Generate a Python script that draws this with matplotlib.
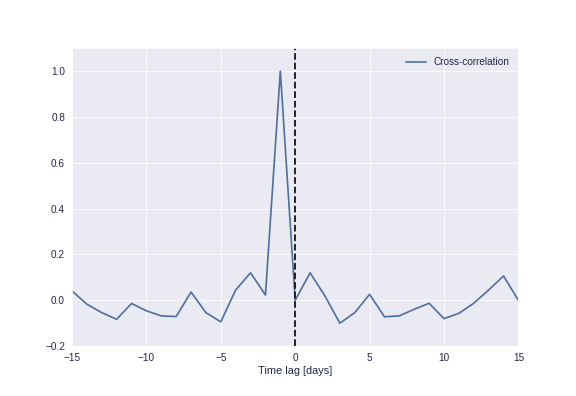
import matplotlib
matplotlib.use('Agg')
import matplotlib.pyplot as plt
import seaborn as sns
import numpy as np

lags = np.arange(-15, 16)
xcorr = [0.041, -0.017, -0.054, -0.083, -0.014, -0.046, -0.068, -0.071, 0.036, -0.054,
         -0.094, 0.045, 0.12, 0.023, 1.0, 0.0, 0.12, 0.019, -0.10, -0.054,
         0.026, -0.072, -0.068, -0.039, -0.013, -0.08, -0.057, -0.013, 0.045, 0.106, 0.0]

sns.set_style('darkgrid')
plt.rcParams['font.family'] = ['Liberation Sans', 'DejaVu Sans']
plt.rcParams['text.color'] = '#22264a'
plt.rcParams['xtick.color'] = '#22264a'
plt.rcParams['ytick.color'] = '#22264a'
plt.rcParams['axes.labelcolor'] = '#22264a'

fig = plt.figure(figsize=(8, 5.5), dpi=72)
ax = fig.add_axes([0.125, 0.126, 0.775, 0.752])

ax.plot(lags, xcorr, color='#52709f', lw=1.7, label='Cross-correlation')
ax.axvline(0, color='#111111', ls='--', lw=1.8)

ax.set_xlim(-15, 15)
ax.set_ylim(-0.2, 1.1)
ax.set_xticks([-15, -10, -5, 0, 5, 10, 15])
ax.set_yticks([-0.2, 0.0, 0.2, 0.4, 0.6, 0.8, 1.0])
ax.set_yticklabels(['\u22120.2', '0.0', '0.2', '0.4', '0.6', '0.8', '1.0'])
ax.tick_params(labelsize=10, length=0, pad=7)
ax.set_xlabel('Time lag [days]', fontsize=11, labelpad=3)
ax.legend(loc='upper right', frameon=False, fontsize=10)

fig.savefig('out.png', dpi=72)
